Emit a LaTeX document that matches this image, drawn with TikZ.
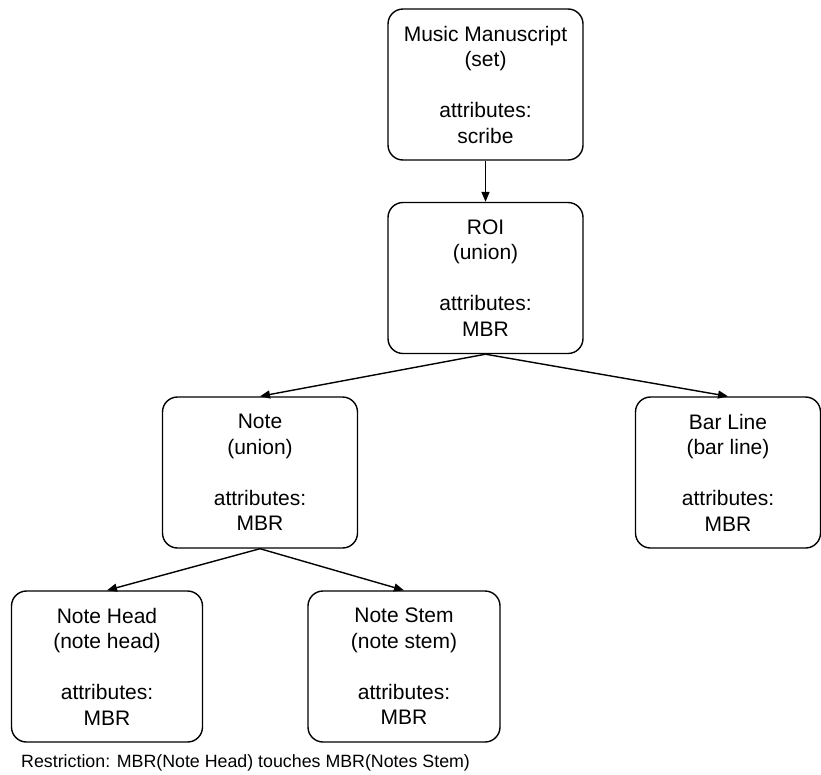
\documentclass[tikz,border=0pt]{standalone}
\usepackage{fontspec}
\setmainfont{Liberation Sans}
\usetikzlibrary{arrows.meta}
\begin{document}
\begin{tikzpicture}[x=1pt,y=-1pt,
  entity/.style={draw, line width=1.4pt, rounded corners=15pt,
    minimum width=195pt, minimum height=151pt, align=center,
    inner sep=0pt, font=\fontsize{21}{25.5}\selectfont},
  link/.style={line width=1.4pt, -{Triangle[length=10pt,width=8pt]}}]
  \useasboundingbox (0,0) rectangle (821,774);
  % class hierarchy boxes
  \node[entity] (ms)   at (485.5,84.5) {Music Manuscript\\(set)\\[25.5pt]attributes:\\scribe};
  \node[entity] (roi)  at (485.5,278)  {ROI\\(union)\\[25.5pt]attributes:\\MBR};
  \node[entity] (note) at (260,472.5)  {Note\\(union)\\[25.5pt]attributes:\\MBR};
  \node[entity, minimum width=185pt] (bar) at (728,472.5) {Bar Line\\(bar line)\\[25.5pt]attributes:\\MBR};
  \node[entity, minimum width=191pt] (head) at (107,666.5) {Note Head\\(note head)\\[25.5pt]attributes:\\MBR};
  \node[entity, minimum width=192pt] (stem) at (404,666.5) {Note Stem\\(note stem)\\[25.5pt]attributes:\\MBR};
  % constraint caption
  \node[anchor=west, inner sep=0pt, font=\fontsize{17.8}{21}\selectfont] (rule) at (21,763)
    {Restriction: MBR(Note Head) touches MBR(Notes Stem)};
  % containment links
  \draw[link] (ms.south) -- (roi.north);
  \draw[link] (roi.south) -- (note.north);
  \draw[link] (roi.south) -- (bar.north);
  \draw[link] (note.south) -- (head.north);
  \draw[link] (note.south) -- (stem.north);
\end{tikzpicture}
\end{document}
